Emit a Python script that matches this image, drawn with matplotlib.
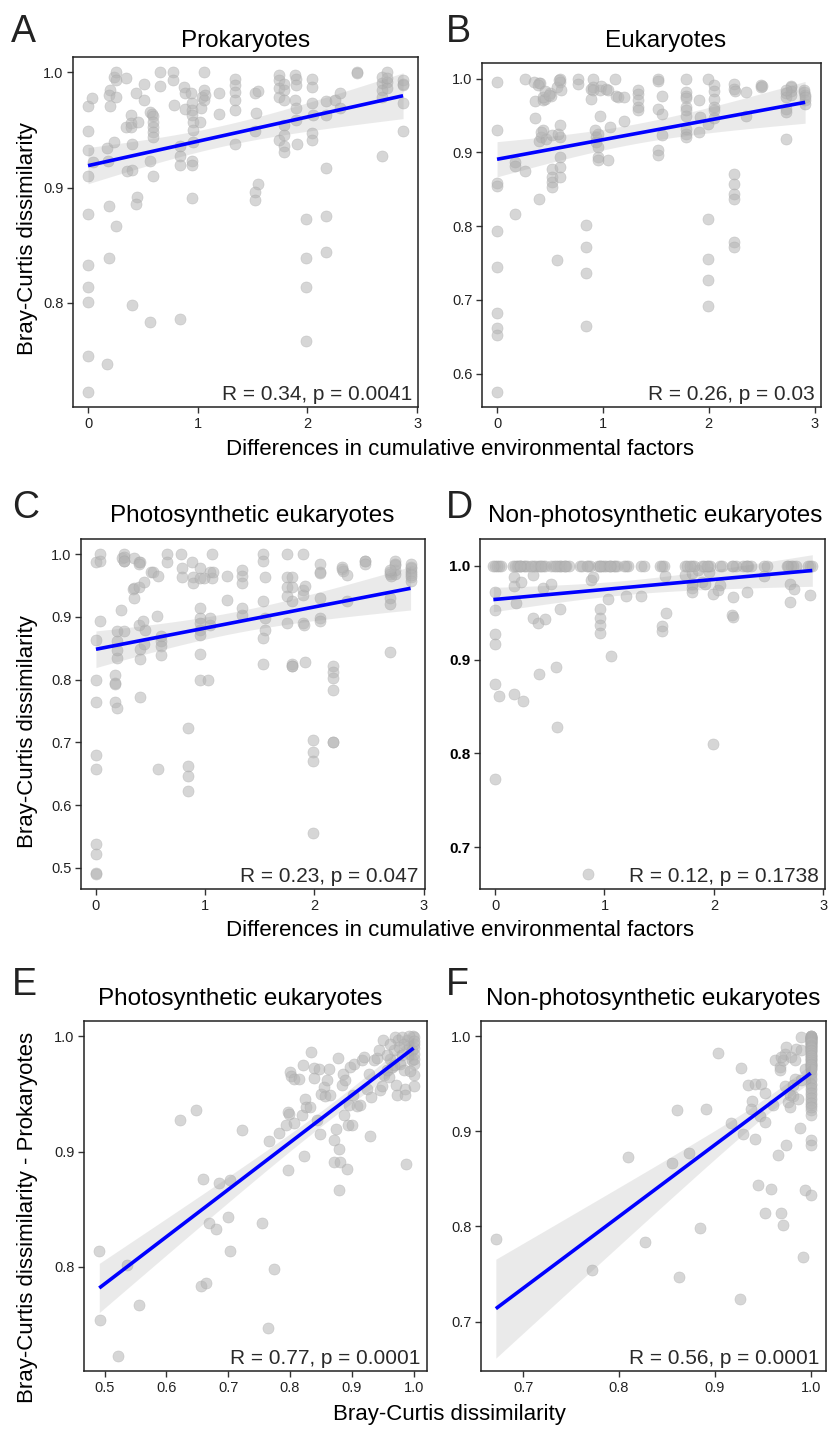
import numpy as np
import matplotlib
matplotlib.use("Agg")
import matplotlib.pyplot as plt

plt.rcParams["font.family"] = ["Liberation Sans", "DejaVu Sans"]

# ---- data ----
# A: Prokaryotes vs differences in cumulative environmental factors
a_pts = [(0,0.971),(0,0.949),(0,0.933),(0,0.910),(0,0.877),(0,0.833),(0,0.814),(0,0.801),(0,0.754),(0,0.723),
         (0.04,0.978),(0.046,0.922),
         (0.173,0.934),(0.182,0.923),(0.198,0.985),(0.191,0.980),(0.198,0.971),(0.191,0.884),(0.252,0.867),(0.191,0.839),(0.173,0.747),
         (0.234,0.940),(0.234,0.996),(0.258,1.0),(0.252,0.993),(0.258,0.979),
         (0.35,0.995),(0.343,0.953),(0.356,0.914),(0.395,0.963),(0.395,0.956),(0.395,0.953),(0.401,0.938),(0.401,0.915),(0.401,0.798),
         (0.435,0.982),(0.447,0.892),(0.435,0.886),(0.456,0.957),
         (0.508,0.990),(0.508,0.976),(0.562,0.966),(0.568,0.923),(0.587,0.964),(0.593,0.962),(0.593,0.957),(0.593,0.953),(0.593,0.948),
         (0.593,0.944),(0.593,0.910),(0.568,0.783),
         (0.653,1.0),(0.653,0.988),(0.775,1.0),(0.775,0.993),(0.781,0.972),(0.836,0.936),(0.842,0.927),(0.842,0.920),(0.842,0.786),
         (0.872,0.987),(0.881,0.982),(0.881,0.968),
         (0.942,0.982),(0.951,0.973),(0.951,0.967),(0.951,0.963),(0.957,0.957),(0.957,0.950),(0.957,0.940),(0.951,0.923),(0.951,0.920),
         (0.951,0.891),(1.018,0.957),(1.033,0.969),(1.043,0.979),(1.055,0.985),(1.055,0.976),(1.055,1.0),(1.064,0.980),
         (1.195,0.982),(1.195,0.964),(1.337,0.994),(1.337,0.989),(1.337,0.983),(1.337,0.976),(1.337,0.967),(1.337,0.938),
         (1.52,0.982),(1.529,0.965),(1.52,0.949),(1.55,0.984),(1.55,0.903),(1.52,0.896),(1.52,0.889),
         (1.742,0.998),(1.742,0.993),(1.742,0.986),(1.742,0.979),(1.742,0.941),(1.784,0.990),(1.784,0.985),(1.784,0.976),
         (1.784,0.954),(1.784,0.946),(1.784,0.936),(1.784,0.931),
         (1.884,0.998),(1.894,0.994),(1.894,0.989),(1.884,0.976),(1.9,0.969),(1.9,0.959),(1.909,0.938),
         (1.985,0.873),(1.985,0.839),(1.985,0.814),(1.985,0.767),
         (2.046,0.994),(2.046,0.987),(2.046,0.973),(2.052,0.963),(2.046,0.947),(2.046,0.941),
         (2.167,0.975),(2.167,0.963),(2.167,0.917),(2.167,0.875),(2.167,0.844),
         (2.249,0.976),(2.295,0.982),(2.295,0.969),(2.453,1.0),(2.453,0.999),
         (2.684,0.996),(2.684,0.991),(2.684,0.985),(2.684,0.979),(2.684,0.927),(2.726,1.0),(2.726,0.992),(2.726,0.986),
         (2.872,0.993),(2.872,0.989),(2.872,0.973),(2.872,0.949),(2.872,0.99),(2.726,0.995)]

# B: Eukaryotes
b_pts = [(0,0.9955),(0,0.931),(0,0.858),(0,0.854),(0,0.793),(0,0.744),(0,0.682),(0,0.662),(0,0.652),(0,0.575),
         (0.167,0.887),(0.167,0.882),(0.167,0.817),(0.267,1.0),(0.267,0.875),
         (0.349,0.996),(0.355,0.970),(0.355,0.947),(0.393,0.994),(0.403,0.994),(0.396,0.837),(0.434,0.9715),(0.45,0.973),
         (0.434,0.930),(0.418,0.921),(0.393,0.916),(0.465,0.9185),(0.497,0.980),(0.513,0.977),(0.519,0.923),(0.519,0.878),
         (0.519,0.867),(0.519,0.860),(0.519,0.853),(0.569,0.989),(0.569,0.754),(0.591,1.0),(0.591,0.9955),(0.597,0.937),
         (0.591,0.921),(0.591,0.894),(0.591,0.880),(0.591,0.8665),
         (0.39,0.992),(0.43,0.975),(0.45,0.983),(0.49,0.978),(0.59,0.998),(0.6,0.985),(0.58,0.925),(0.42,0.928),
         (0.764,1.0),(0.764,0.993),(0.843,0.801),(0.843,0.771),(0.843,0.736),(0.843,0.665),(0.89,0.986),(0.89,0.973),
         (0.906,1.0),(0.906,0.988),(0.937,0.921),(0.937,0.914),(0.953,0.907),(0.953,0.894),(0.953,0.889),(0.969,0.949),
         (0.969,0.984),(0.984,0.990),(1.031,0.986),(1.047,0.985),(1.047,0.890),(1.063,0.934),(1.11,1.0),(1.126,0.977),
         (1.142,0.975),(1.198,0.975),(1.198,0.9425),(0.93,0.93),(0.95,0.925),(0.91,0.985),
         (1.336,0.985),(1.336,0.979),(1.336,0.971),(1.336,0.9615),(1.336,0.958),
         (1.525,1.0),(1.525,0.997),(1.525,0.959),(1.557,0.977),(1.557,0.9525),(1.557,0.923),(1.525,0.903),(1.525,0.896),
         (1.786,1.0),(1.786,0.982),(1.786,0.977),(1.786,0.974),(1.786,0.962),(1.786,0.958),(1.786,0.950),(1.786,0.932),
         (1.786,0.925),(1.786,0.921),
         (1.912,0.971),(1.912,0.928),(1.921,0.948),(1.991,1.0),(1.991,0.809),(1.991,0.755),(1.991,0.727),(1.991,0.691),
         (1.991,0.938),(2.047,0.992),(2.047,0.983),(2.047,0.973),(2.047,0.9615),(2.047,0.946),(2.053,0.957),
         (2.236,0.993),(2.236,0.986),(2.248,0.983),(2.236,0.871),(2.236,0.8566),(2.236,0.844),(2.236,0.837),(2.236,0.778),
         (2.236,0.772),(2.352,0.982),(2.352,0.950),
         (2.494,0.991),(2.494,0.989),(2.73,0.980),(2.73,0.959),(2.73,0.955),(2.73,0.9185),(2.777,0.990),(2.777,0.983),
         (2.903,0.982),(2.909,0.971),(2.909,0.965),(2.73,0.975),(2.777,0.978),(2.909,0.978),
         (2.9,0.985),(2.91,0.975),(2.78,0.988),(2.5,0.99),(2.73,0.985)]

# C: Photosynthetic eukaryotes
c_pts = [(0,0.988),(0,0.863),(0,0.799),(0,0.765),(0,0.680),(0,0.658),(0,0.538),(0,0.522),(0,0.491),(0,0.490),
         (0.034,1.0),(0.034,0.894),(0.035,0.99),
         (0.177,0.808),(0.177,0.795),(0.177,0.793),(0.177,0.765),(0.192,0.755),(0.192,0.834),(0.192,0.847),(0.192,0.862),
         (0.192,0.877),(0.229,0.911),(0.238,0.994),(0.253,1.0),(0.259,0.989),(0.259,0.877),(0.253,0.995),(0.259,0.99),
         (0.345,0.994),(0.345,0.946),(0.338,0.944),(0.351,0.930),(0.39,0.987),(0.399,0.987),(0.39,0.948),(0.39,0.887),
         (0.399,0.849),(0.399,0.833),(0.399,0.773),(0.43,0.893),(0.442,0.956),(0.451,0.879),(0.442,0.857),(0.39,0.985),
         (0.503,0.972),(0.521,0.972),(0.558,0.901),(0.564,0.965),(0.564,0.657),(0.595,0.869),(0.595,0.861),(0.595,0.853),
         (0.595,0.840),
         (0.655,1.0),(0.655,0.987),(0.777,1.0),(0.787,0.978),(0.787,0.964),(0.841,0.723),(0.841,0.663),(0.841,0.647),
         (0.841,0.623),(0.878,0.987),(0.887,0.963),(0.893,0.954),
         (0.954,0.978),(0.954,0.962),(0.954,0.914),(0.954,0.898),(0.954,0.890),(0.954,0.879),(0.954,0.871),(0.954,0.841),
         (0.954,0.799),(1.03,0.799),(1.04,0.887),(1.04,0.898),(1.046,0.972),(1.061,1.0),(1.061,0.962),(1.07,0.972),
         (0.985,0.962),
         (1.198,0.965),(1.198,0.927),(1.341,0.975),(1.341,0.965),(1.341,0.954),(1.341,0.914),(1.341,0.903),
         (1.527,1.0),(1.527,0.990),(1.527,0.926),(1.552,0.963),(1.552,0.898),(1.552,0.879),(1.527,0.866),(1.527,0.825),
         (1.747,1.0),(1.747,0.963),(1.747,0.948),(1.747,0.934),(1.747,0.890),(1.793,0.963),(1.793,0.948),(1.793,0.925),
         (1.793,0.825),(1.793,0.822),(1.793,0.821),
         (1.899,1.0),(1.899,0.943),(1.899,0.935),(1.899,0.890),(1.905,0.887),(1.915,0.950),(1.915,0.828),(1.991,0.703),
         (1.991,0.685),(1.991,0.670),(1.991,0.555),
         (2.052,0.984),(2.052,0.971),(2.052,0.970),(2.052,0.931),(2.052,0.898),(2.052,0.894),(2.168,0.822),(2.168,0.813),
         (2.168,0.802),(2.168,0.783),(2.168,0.701),(2.168,0.700),
         (2.25,0.977),(2.259,0.974),(2.302,0.967),(2.302,0.926),(2.463,0.989),
         (2.692,0.971),(2.692,0.930),(2.692,0.921),(2.692,0.844),(2.738,0.983),(2.738,0.969),(2.881,0.974),(2.881,0.963),
         (2.692,0.968),(2.738,0.975),(2.738,0.99),(2.881,0.97),(2.881,0.958),(2.881,0.978),(2.7,0.965),(2.46,0.99),
         (2.881,0.98),(2.881,0.985),(2.738,0.985),(2.692,0.975),(2.46,0.985),(2.25,0.98),(2.881,0.967)]

# D: Non-photosynthetic eukaryotes (many overlapping points sit exactly at 1.0)
d_x_at_one = [0, 0.034, 0.18, 0.21, 0.241, 0.271, 0.348, 0.393, 0.439, 0.515, 0.576, 0.607, 0.652, 0.774, 0.851,
              0.942, 0.973, 1.018, 1.064, 1.095, 1.192, 1.338, 1.521, 1.735, 1.796, 1.887, 1.948, 2.055, 2.177,
              2.268, 2.314, 2.46, 2.68, 2.726, 2.878]
d_pts = [(0,0.972),(0,0.953),(0,0.927),(0,0.917),(0,0.874),(0.037,0.861),(0,0.773),
         (0.174,0.988),(0.174,0.978),(0.195,0.960),(0.241,0.983),(0.348,0.990),(0.348,0.944),(0.393,0.939),
         (0.399,0.885),(0.454,0.943),(0.439,0.976),(0.509,0.981),(0.561,0.892),(0.570,0.828),(0.591,0.954),
         (0.171,0.863),(0.256,0.856),(0.845,0.672),(0.881,0.985),(0.896,0.988),(0.957,0.954),(0.957,0.944),
         (0.957,0.937),(0.957,0.928),(1.034,0.964),(1.058,0.904),(1.192,0.968),(1.338,0.968),(1.521,0.936),
         (1.521,0.930),(1.552,0.989),(1.558,0.950),(1.735,0.990),(1.796,0.981),(1.796,0.976),(1.796,0.972),
         (1.887,0.983),(1.918,0.981),(1.994,0.810),(1.994,0.970),(2.04,0.974),(2.055,0.979),(2.177,0.967),
         (2.168,0.948),(2.177,0.945),(2.299,0.972),(2.46,0.989),(2.695,0.980),(2.695,0.961),(2.735,0.975),
         (2.878,0.969),(1.8,0.992),(1.85,0.995),(1.95,0.993)]

# E: Photosynthetic eukaryotes vs prokaryotes
e_pts = [(0.4914,0.8139),(0.4919,0.7538),(0.5216,0.7228),(0.5361,0.8014),(0.5556,0.7673),(0.6224,0.9277),
         (0.6483,0.9358),(0.6559,0.7832),(0.664,0.7864),(0.6586,0.8766),(0.6694,0.8384),(0.6802,0.8332),
         (0.6855,0.8728),(0.699,0.8434),(0.7023,0.8139),(0.7023,0.8751),(0.7222,0.9191),(0.7546,0.8384),
         (0.7643,0.7471),(0.7654,0.909),(0.7735,0.798),(0.7816,0.9165),(0.7934,0.9228),(0.7961,0.9344),
         (0.7977,0.9329),(0.7961,0.8838),(0.7994,0.9691),(0.8015,0.9653),(0.8058,0.9633),(0.8069,0.9249),
         (0.8139,0.9627),(0.8209,0.9749),(0.8231,0.8965),(0.8247,0.946),(0.8193,0.9315),(0.8263,0.9387),
         (0.8317,0.9387),(0.8339,0.9864),(0.8382,0.9642),(0.8393,0.9728),(0.8463,0.972),(0.8436,0.9272),
         (0.8479,0.9156),(0.85,0.9503),(0.8544,0.9561),(0.8571,0.948),(0.8598,0.9618),(0.8625,0.9714),
         (0.8652,0.9488),(0.8706,0.9098),(0.8706,0.891),(0.8749,0.9199),(0.877,0.9815),(0.8786,0.9026),
         (0.8786,0.8665),(0.8813,0.891),(0.884,0.9575),(0.8856,0.9676),(0.8894,0.9618),(0.8867,0.9315),
         (0.8921,0.8853),(0.8932,0.9228),(0.8954,0.9402),(0.8975,0.9734),(0.9002,0.9228),(0.9018,0.9488),
         (0.904,0.9763),(0.9083,0.9393),(0.9137,0.9402),(0.9164,0.9792),(0.9191,0.9821),(0.9245,0.9546),
         (0.9272,0.9676),(0.9288,0.9139),(0.931,0.9474),(0.9353,0.9792),(0.9407,0.9815),(0.9434,0.9884),
         (0.9461,0.9532),(0.9488,0.9566),(0.9504,0.9965),(0.9515,0.9662),(0.9568,0.9705),(0.9595,0.9647),
         (0.9622,0.9806),(0.9649,0.9734),(0.9676,0.9879),(0.9703,0.9994),(0.9719,0.9575),(0.973,0.9488),
         (0.9757,0.9908),(0.9784,0.9763),(0.9811,0.9835),(0.9838,0.9705),(0.9865,0.9546),(0.9865,0.9488),
         (0.9881,0.889),(0.9892,0.9965),(0.9919,0.9922),(0.9946,0.985),(0.9973,0.9792),(0.9989,1.0),
         (1.0,0.9662),(1.0,0.9936),(1.0,0.9994),(1.0,0.9763),(0.9741,0.9965),(0.9811,0.9994),(0.9838,0.9936),
         (0.9622,0.9936),(0.9568,0.9835),(0.9676,0.9749),(0.9919,1.0),(0.9973,0.9879),
         (1.0,0.985),(1.0,0.99),(1.0,0.996),(1.0,0.98),(0.995,0.97),(1.0,0.957)]

# F: Non-photosynthetic eukaryotes vs prokaryotes
f_pts = [(0.6715,0.7865),(0.772,0.7539),(0.8095,0.8729),(0.8276,0.7833),(0.8554,0.8666),(0.8602,0.9223),
         (0.8627,0.7473),(0.8731,0.8771),(0.8842,0.7984),(0.8912,0.923),(0.9033,0.9825),(0.9165,0.909),
         (0.9263,0.7235),(0.9277,0.9667),(0.9294,0.8967),(0.9346,0.9485),(0.9388,0.9314),(0.9374,0.923),
         (0.9416,0.8915),(0.9423,0.9496),(0.945,0.8439),(0.9468,0.9163),(0.9485,0.9499),(0.952,0.9401),
         (0.9527,0.9097),(0.9527,0.8141),(0.9589,0.839),(0.9607,0.9272),(0.9624,0.9744),(0.9659,0.8754),
         (0.9676,0.9674),(0.9676,0.9639),(0.9694,0.8145),(0.9711,0.8012),(0.9711,0.9744),(0.9729,0.9814),
         (0.9736,0.9471),(0.9746,0.8852),(0.9763,0.9307),(0.9781,0.9254),(0.9798,0.978),(0.9815,0.9366),
         (0.9833,0.9552),(0.985,0.9867),(0.9868,0.9342),(0.9885,0.9034),(0.9895,0.999),(0.9902,0.985),
         (0.992,0.7679),(0.9937,0.9657),(0.9944,0.8386),(0.9902,0.9534),(0.9833,0.9744),(0.9694,0.978),
         (0.9746,0.9884),(0.9815,0.9482),(0.9781,0.9377)]
f_y_at_one = [1.0, 0.998, 0.9954, 0.993, 0.9902, 0.985, 0.9797, 0.9744, 0.9692, 0.9639, 0.9587, 0.9534, 0.9482,
              0.9429, 0.9377, 0.9324, 0.9272, 0.9219, 0.9167, 0.8904, 0.8852, 0.8334,
              0.999, 0.997, 0.995, 0.992, 0.988, 0.983, 0.978, 0.972, 0.966, 0.961, 0.956, 0.950, 0.945,
              0.940, 0.935, 0.930, 0.925, 0.998, 0.994, 0.986, 0.976, 0.968,
              1.0, 1.0, 0.999, 0.998, 0.997, 0.996, 0.995, 0.994, 0.993, 0.991, 0.99, 0.989, 0.987, 0.985,
              0.984, 0.982, 0.98, 0.979, 0.977, 0.975, 0.973, 0.971, 0.97, 0.967, 0.965]

d_pts = d_pts + [(x, 1.0) for x in d_x_at_one] + [(x + 0.02, 1.0) for x in d_x_at_one] \
        + [(x - 0.015, 1.0) for x in d_x_at_one[::2]]
f_pts = f_pts + [(1.0, y) for y in f_y_at_one]

titles = ["Prokaryotes", "Eukaryotes", "Photosynthetic eukaryotes", "Non-photosynthetic eukaryotes",
          "Photosynthetic eukaryotes", "Non-photosynthetic eukaryotes"]
letters = ["A", "B", "C", "D", "E", "F"]
stats = ["R = 0.34, p = 0.0041", "R = 0.26, p = 0.03", "R = 0.23, p = 0.047", "R = 0.12, p = 0.1738",
         "R = 0.77, p = 0.0001", "R = 0.56, p = 0.0001"]

W, H = 831, 1430
fig = plt.figure(figsize=(W / 100, H / 100), dpi=100)


def px_axes(l, t, r, b):
    return fig.add_axes([l / W, 1 - b / H, (r - l) / W, (b - t) / H])


def panel(ax, pts, xlim, ylim, xticks, yticks, stat, ylab_bold=False):
    x = np.array([p[0] for p in pts])
    y = np.array([p[1] for p in pts])
    ax.scatter(x, y, s=64, color="#b5b5b5", alpha=0.55, edgecolors="#a8a8a8", linewidths=0.4, zorder=2)
    # linear fit with 95% confidence band (like geom_smooth(method="lm"))
    n = len(x)
    slope, icpt = np.polyfit(x, y, 1)
    resid = y - (icpt + slope * x)
    s = np.sqrt(np.sum(resid ** 2) / (n - 2))
    xs = np.linspace(x.min(), x.max(), 100)
    se = s * np.sqrt(1 / n + (xs - x.mean()) ** 2 / np.sum((x - x.mean()) ** 2))
    fit = icpt + slope * xs
    ax.fill_between(xs, fit - 1.97 * se, fit + 1.97 * se, color="#999999", alpha=0.2, lw=0, zorder=3)
    ax.plot(xs, fit, color="#0000ff", lw=2.6, zorder=4, solid_capstyle="butt")
    ax.set_xlim(xlim)
    ax.set_ylim(ylim)
    ax.set_xticks(xticks)
    ax.set_yticks(yticks)
    ax.set_xticklabels([f"{t:g}" if max(xticks) > 1.5 else f"{t:.1f}" for t in xticks])
    ax.set_yticklabels([f"{t:.1f}" for t in yticks])
    ax.tick_params(direction="out", length=4, width=1, color="#333333", labelsize=10.5,
                   labelcolor="#222222", pad=3)
    if ylab_bold:
        for lab in ax.get_yticklabels():
            lab.set_fontweight("bold")
            lab.set_fontsize(11)
            lab.set_color("black")
    for sp in ax.spines.values():
        sp.set_linewidth(1.1)
        sp.set_color("#222222")
    ax.text(0.982, 0.02, stat, transform=ax.transAxes, ha="right", va="baseline",
            fontsize=15, color="#2a2a2a", zorder=5)


axA = px_axes(73, 57, 418, 407)
axB = px_axes(482, 63, 821, 407)
axC = px_axes(81, 539, 425, 889)
axD = px_axes(480, 539, 825, 889)
axE = px_axes(84, 1021, 427, 1371)
axF = px_axes(481, 1021, 826, 1371)

panel(axA, a_pts, (-0.137, 3.008), (0.7097, 1.0133), [0, 1, 2, 3], [0.8, 0.9, 1.0], stats[0])
panel(axB, b_pts, (-0.142, 3.06), (0.5547, 1.0212), [0, 1, 2, 3], [0.6, 0.7, 0.8, 0.9, 1.0], stats[1])
panel(axC, c_pts, (-0.137, 3.013), (0.466, 1.0244), [0, 1, 2, 3], [0.5, 0.6, 0.7, 0.8, 0.9, 1.0], stats[2])
panel(axD, d_pts, (-0.137, 3.014), (0.6557, 1.0284), [0, 1, 2, 3], [0.7, 0.8, 0.9, 1.0], stats[3], ylab_bold=True)
panel(axE, e_pts, (0.4667, 1.0217), (0.7097, 1.0133), [0.5, 0.6, 0.7, 0.8, 0.9, 1.0], [0.8, 0.9, 1.0], stats[4])
panel(axF, f_pts, (0.656, 1.016), (0.648, 1.0158), [0.7, 0.8, 0.9, 1.0], [0.7, 0.8, 0.9, 1.0], stats[5])


def ftext(x, y, s, **kw):
    fig.text(x / W, 1 - y / H, s, **kw)


# titles (baseline positions in pixels)
title_pos = [(246, 47), (666, 47), (252, 522), (655, 522), (240, 1005), (653, 1005)]
for (tx, ty), t in zip(title_pos, titles):
    ftext(tx, ty, t, ha="center", va="baseline", fontsize=17.5)

letter_pos = [(11, 42), (446, 42), (12, 518), (446, 518), (12, 995), (446, 995)]
for (lx, ly), l in zip(letter_pos, letters):
    ftext(lx, ly, l, ha="left", va="baseline", fontsize=27, color="#222222")

ftext(460, 455, "Differences in cumulative environmental factors", ha="center", va="baseline", fontsize=16)
ftext(460, 936, "Differences in cumulative environmental factors", ha="center", va="baseline", fontsize=16)
ftext(449, 1420, "Bray-Curtis dissimilarity", ha="center", va="baseline", fontsize=16)
ftext(28, 239, "Bray-Curtis dissimilarity", ha="center", va="center", rotation=90, fontsize=16)
ftext(28, 732, "Bray-Curtis dissimilarity", ha="center", va="center", rotation=90, fontsize=16)
ftext(28, 1217, "Bray-Curtis dissimilarity - Prokaryotes", ha="center", va="center", rotation=90, fontsize=16)

fig.savefig("out.png", dpi=100)
